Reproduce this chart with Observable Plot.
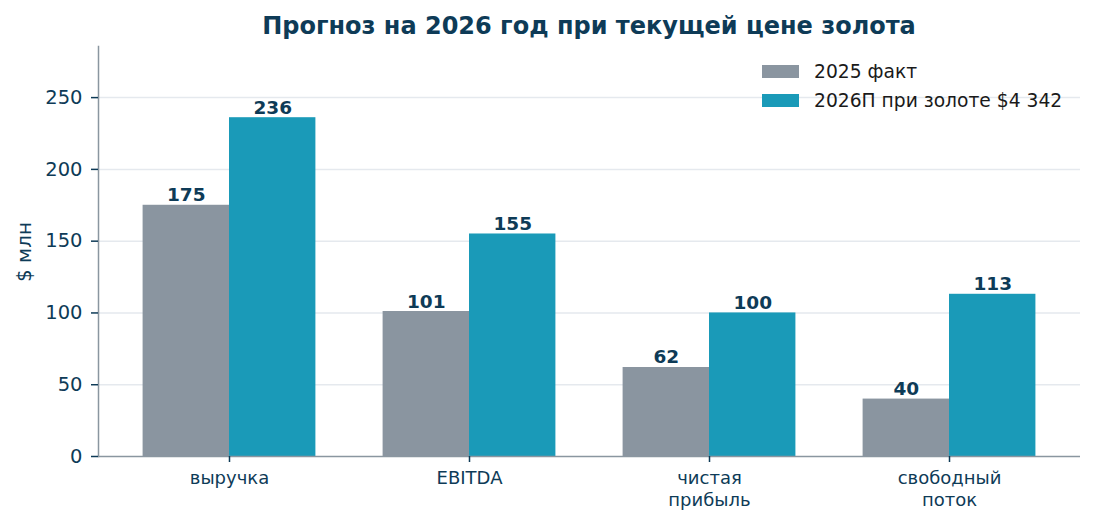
<!DOCTYPE html>
<html><head><meta charset="utf-8">
<script src="https://cdn.jsdelivr.net/npm/d3@7"></script>
<script src="https://cdn.jsdelivr.net/npm/@observablehq/plot@0.6"></script>
<style>
body{margin:0;background:#fff;font-family:"DejaVu Sans",sans-serif;}
#wrap{position:relative;width:1095px;height:525px;}
#title{position:absolute;left:98px;width:982px;top:10px;text-align:center;font-weight:bold;font-size:24px;line-height:32px;color:#0e3b57;}
#ylab{position:absolute;left:24px;top:252px;transform:translate(-50%,-50%) rotate(-90deg);font-size:20px;color:#0e3b57;white-space:nowrap;}
#legend{position:absolute;left:762px;top:57px;font-size:18.7px;color:#1a1a1a;}
.li{display:flex;align-items:center;height:29px;}
.sw{width:37px;height:13px;margin-right:15px;}
</style></head>
<body><div id="wrap">
<div id="chart"></div>
<div id="title">Прогноз на 2026 год при текущей цене золота</div>
<div id="ylab">$ млн</div>
<div id="legend"></div>
</div>
<script>
const categories = ["выручка", "EBITDA", "чистая\nприбыль", "свободный\nпоток"];
const seriesNames = ["2025 факт", "2026П при золоте $4 342"];
const values2025 = [175, 101, 62, 40];
const values2026 = [236, 155, 100, 113];
const seriesColors = ["#8a95a0", "#1a9ab8"];
const yTicks = [0, 50, 100, 150, 200, 250];
const yMax = 285.6;

const barWidth = 0.36;
const data = [];
categories.forEach((c, i) => {
  data.push({idx: i, s: 0, series: seriesNames[0], value: values2025[i]});
  data.push({idx: i, s: 1, series: seriesNames[1], value: values2026[i]});
});
const x1 = d => d.idx + (d.s - 1) * barWidth;
const x2 = d => d.idx + d.s * barWidth;
const xc = d => d.idx + (d.s - 0.5) * barWidth;

const dark = "#0e3b57";
const spine = "#8a96a0";

const chart = Plot.plot({
  width: 1095, height: 525,
  marginTop: 46, marginBottom: 69, marginLeft: 98, marginRight: 15,
  style: {fontFamily: "DejaVu Sans, sans-serif", background: "#fff"},
  x: {domain: [-0.5458, categories.length - 1 + 0.5458], label: null},
  y: {domain: [0, yMax], label: null},
  color: {domain: seriesNames, range: seriesColors},
  marks: [
    Plot.ruleY(yTicks.filter(d => d > 0), {stroke: "#e5e9ee", strokeWidth: 1.5}),
    Plot.rectY(data, {x1, x2, y1: 0, y2: "value", fill: "series"}),
    Plot.text(data, {x: xc, y: "value", text: d => String(d.value),
      dy: -4, lineAnchor: "bottom", fontWeight: "bold", fontSize: 18.5, fill: dark}),
    Plot.ruleY([0], {stroke: spine, strokeWidth: 1.5}),
    Plot.frame({anchor: "left", stroke: spine, strokeWidth: 1.5, strokeOpacity: 1}),
    Plot.axisY({ticks: yTicks, tickSize: 7, tickPadding: 9, fontSize: 19.5,
      color: dark, stroke: dark, strokeWidth: 1.5, label: null}),
    Plot.axisX({ticks: d3.range(categories.length), tickFormat: i => categories[i],
      tickSize: 6, tickPadding: 7, fontSize: 18, lineHeight: 1.17, color: dark,
      stroke: dark, strokeWidth: 1.5, label: null})
  ]
});
document.getElementById("chart").appendChild(chart);

const legend = document.getElementById("legend");
seriesNames.forEach((s, i) => {
  const row = document.createElement("div");
  row.className = "li";
  const sw = document.createElement("div");
  sw.className = "sw";
  sw.style.background = seriesColors[i];
  const t = document.createElement("span");
  t.textContent = s;
  row.appendChild(sw); row.appendChild(t);
  legend.appendChild(row);
});
</script>
</body></html>
